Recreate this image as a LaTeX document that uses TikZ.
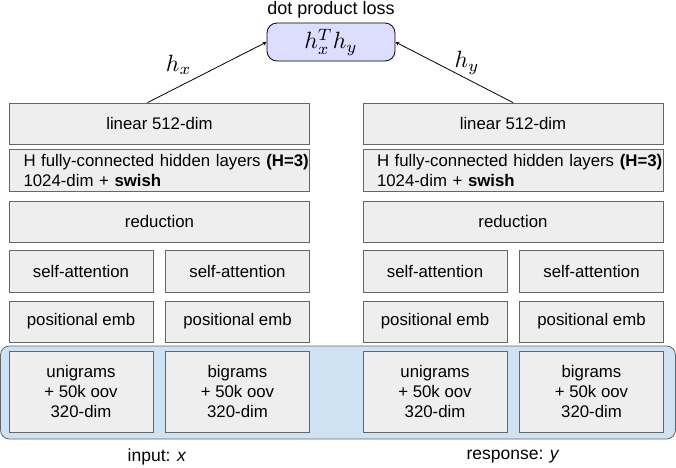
\documentclass[tikz,border=0pt]{standalone}
\usepackage{graphicx}
\usepackage{fontspec}
\setmainfont{Liberation Sans}
\usetikzlibrary{arrows,positioning}

\definecolor{boxgray}{HTML}{EEEEEE}
\definecolor{inblue}{HTML}{CFE2F3}
\definecolor{lossblue}{HTML}{DDDDFF}

\newcommand{\bigmath}[1]{\scalebox{2.35}{$#1$}}

\begin{document}
\begin{tikzpicture}
		[x=1pt,y=-1pt,>=stealth,
		main node/.style={shape=rectangle,draw=black!60,line width=.8pt,fill=boxgray,inner sep=0pt,
			font=\fontsize{16.8}{20}\selectfont,align=center},
		full node/.style={main node,minimum width=300pt,minimum height=41pt},
		half node/.style={main node,minimum width=144pt,minimum height=41pt},
		word node/.style={main node,minimum width=144pt,minimum height=81pt}]
		\useasboundingbox (0,0) rectangle (676,467);
		
		% input area
		\draw[draw=black!60,line width=.8pt,fill=inblue,rounded corners=9pt] (0.5,346) rectangle (675.5,439);
		
		% left tower
		\node [full node] (1) at (159.5,123.5) {linear 512-dim};
		\node [full node,minimum height=42pt,align=left,text width=272pt] (2) at (159.5,170)
			{\mbox{H fully-connected hidden layers \textbf{(H=3)}}\\\mbox{1024-dim + \textbf{swish}}};
		\node [full node] (3) at (159.5,221.5) {reduction};
		\node [half node,minimum height=42pt] (4) at (81,271) {self-attention};
		\node [half node,minimum height=42pt] (5) at (237.5,271) {self-attention};
		\node [half node] (6) at (81,321.5) {positional emb};
		\node [half node] (7) at (237.5,321.5) {positional emb};
		\node [word node] (8) at (81,391.5) {unigrams\\+ 50k oov\\320-dim};
		\node [word node] (9) at (237.5,391.5) {bigrams\\+ 50k oov\\320-dim};
		
		% right tower
		\node [full node] (11) at (513,123.5) {linear 512-dim};
		\node [full node,minimum height=42pt,align=left,text width=272pt] (12) at (513,170)
			{\mbox{H fully-connected hidden layers \textbf{(H=3)}}\\\mbox{1024-dim + \textbf{swish}}};
		\node [full node] (13) at (513,221.5) {reduction};
		\node [half node,minimum height=42pt] (14) at (435,271) {self-attention};
		\node [half node,minimum height=42pt] (15) at (591.5,271) {self-attention};
		\node [half node] (16) at (435,321.5) {positional emb};
		\node [half node] (17) at (591.5,321.5) {positional emb};
		\node [word node] (18) at (435,391.5) {unigrams\\+ 50k oov\\320-dim};
		\node [word node] (19) at (591.5,391.5) {bigrams\\+ 50k oov\\320-dim};
		
		\node [font=\fontsize{17.5}{20}\selectfont] (20) at (157,457) {input: \textit{x}};
		\node [font=\fontsize{17.5}{20}\selectfont] (21) at (513,457) {response: \textit{y}};
		
		% loss
		\node [shape=rectangle,draw,line width=.8pt,fill=lossblue,rounded corners=10pt,
			minimum width=128pt,minimum height=38pt] (0) at (331,42) {\bigmath{h_x^T h_y}};
		\node [font=\fontsize{18}{20}\selectfont,inner sep=0pt] (22) at (331,9.5) {dot product loss};
		
		\path[->,line width=.8pt]
		(1.north) ++(-12,0) coordinate (a) 
		(11.north) coordinate (b)
		(a) edge node[above left=0pt and 0pt,pos=.45,xshift=-6pt,yshift=-3pt] {\bigmath{h_x}} (0.west)
		(b) edge node[above right=0pt and 0pt,pos=.4,xshift=-15pt] {\bigmath{h_y}} (0.east)
		;
		
\end{tikzpicture}
\end{document}
